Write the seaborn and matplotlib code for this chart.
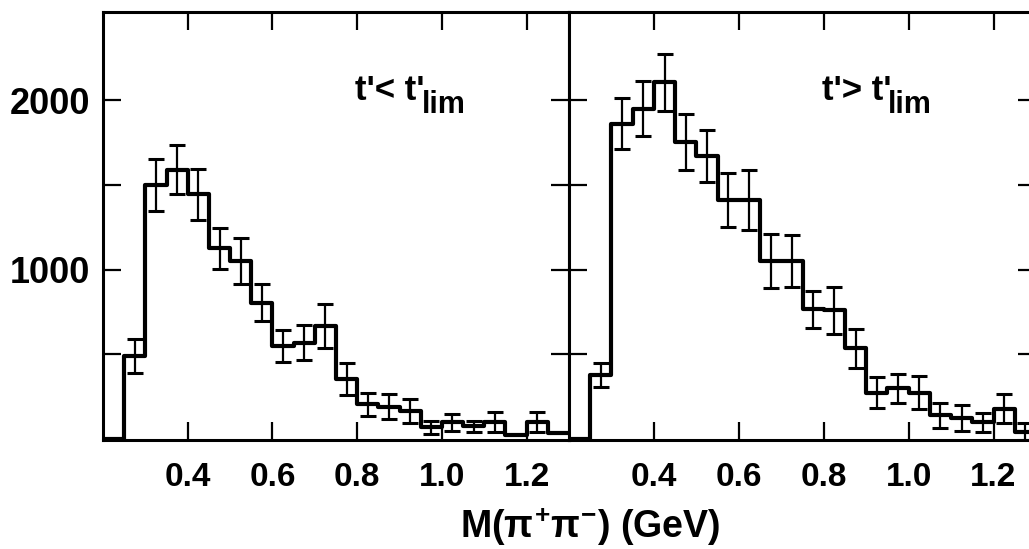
import numpy as np
import matplotlib
matplotlib.use("Agg")
import matplotlib.pyplot as plt
import seaborn as sns

# ------------------------------
# Data
# ------------------------------
bin_edges = [0.20, 0.25, 0.30, 0.35, 0.40, 0.45, 0.50, 0.55, 0.60, 0.65, 0.70, 0.75,
             0.80, 0.85, 0.90, 0.95, 1.00, 1.05, 1.10, 1.15, 1.20, 1.25, 1.30]
mass = [0.275, 0.325, 0.375, 0.425, 0.475, 0.525, 0.575, 0.625, 0.675, 0.725, 0.775,
        0.825, 0.875, 0.925, 0.975, 1.025, 1.075, 1.125, 1.175, 1.225, 1.275]

# t' < t'_lim
low_counts = [490, 1500, 1590, 1445, 1125, 1050, 805, 550, 570, 665, 355,
              205, 190, 165, 70, 100, 75, 100, 25, 100, 35]
low_err = [100, 155, 145, 150, 120, 135, 110, 95, 105, 130, 95,
           68, 74, 72, 40, 50, 35, 60, np.nan, 60, np.nan]

# t' > t'_lim
high_counts = [380, 1860, 1950, 2105, 1755, 1670, 1410, 1410, 1050, 1050, 765,
               760, 535, 275, 300, 275, 140, 125, 100, 180, 45]
high_err = [70, 150, 160, 168, 165, 155, 160, 175, 158, 153, 108,
            140, 113, 89, 87, 97, 75, 77, 55, 85, 50]

x_ticks = [0.4, 0.6, 0.8, 1.0, 1.2]
x_labels = ["0.4", "0.6", "0.8", "1.0", "1.2"]
y_ticks = [500, 1000, 1500, 2000]
y_labels = ["", "1000", "", "2000"]

# ------------------------------
# Style
# ------------------------------
sns.set_style("ticks")
plt.rcParams["font.family"] = ["Liberation Sans", "DejaVu Sans"]
plt.rcParams["text.color"] = "black"
plt.rcParams["xtick.color"] = "black"
plt.rcParams["ytick.color"] = "black"
plt.rcParams["axes.edgecolor"] = "black"
plt.rcParams["mathtext.fontset"] = "custom"
plt.rcParams["mathtext.rm"] = "Liberation Sans:bold"
plt.rcParams["mathtext.it"] = "Liberation Sans:bold"
plt.rcParams["mathtext.bf"] = "Liberation Sans:bold"

fig = plt.figure(figsize=(10.29, 5.49), dpi=100)
ax_lo = fig.add_axes([103 / 1029, 109 / 549, 466 / 1029, 428 / 549])
ax_hi = fig.add_axes([569 / 1029, 109 / 549, 467 / 1029, 428 / 549], sharey=ax_lo)

panels = [(ax_lo, low_counts, low_err, "<"), (ax_hi, high_counts, high_err, ">")]
for ax, counts, err, sign in panels:
    sns.histplot(x=mass, weights=counts, bins=bin_edges, element="step", fill=False,
                 color="black", linewidth=3.0, ax=ax)
    ax.errorbar(mass, counts, yerr=err, fmt="none", ecolor="black",
                elinewidth=1.6, capsize=6, capthick=2.2)
    ax.set_xlim(0.2, 1.3)
    ax.set_ylim(-5, 2520)
    ax.set_xlabel("")
    ax.set_ylabel("")
    for s in ax.spines.values():
        s.set_linewidth(2.2)
        s.set_visible(True)
    ax.tick_params(direction="in", length=13, width=1.6, top=True, right=True,
                   pad=16, colors="black")
    ax.set_xticks(x_ticks, labels=x_labels, fontsize=24, fontweight="bold")
    ax.text(0.795, 2000, "t'" + sign + " t'", fontsize=25, fontweight="bold")
    ax.text(0.952, 1923, "lim", fontsize=22, fontweight="bold")

ax_lo.set_yticks(y_ticks, labels=y_labels, fontsize=26, fontweight="bold")
ax_lo.tick_params(axis="y", pad=9)
ax_hi.tick_params(axis="y", labelleft=False)

fig.text(590 / 1029, (549 - 527) / 549, r"M$(\pi^{+}\pi^{-})$ (GeV)",
         fontsize=27, fontweight="bold", ha="center", va="center")

fig.savefig("out.png", dpi=100)
